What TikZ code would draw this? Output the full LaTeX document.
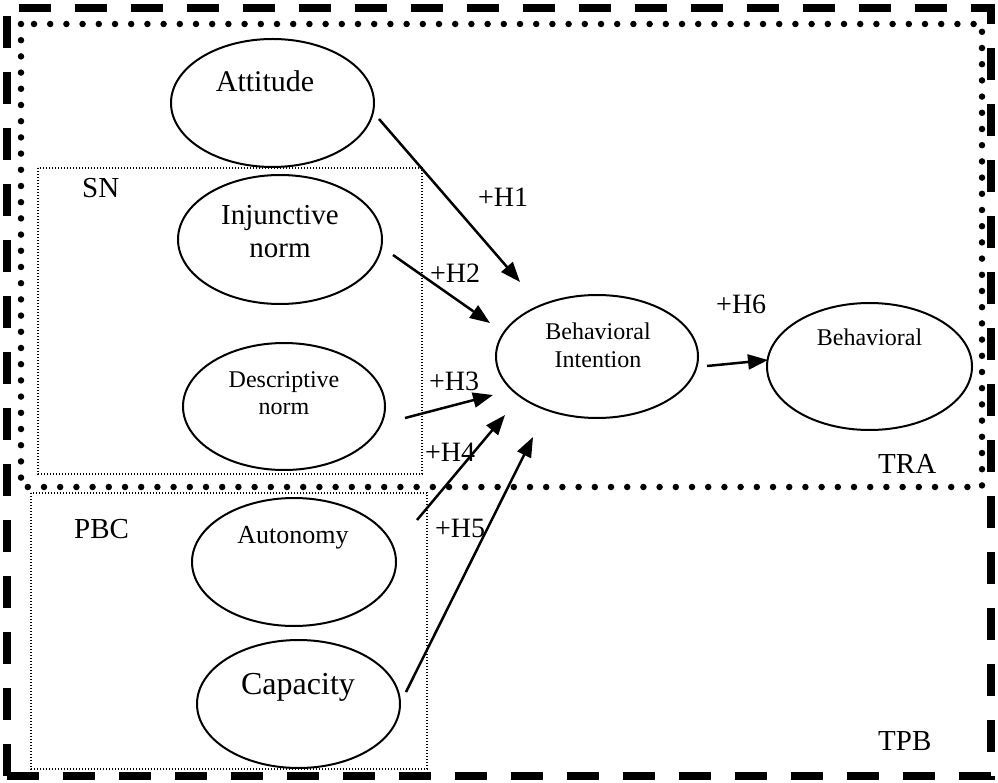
\documentclass[tikz,border=0pt]{standalone}
\usepackage{fontspec}
\setmainfont{Liberation Serif}
\usetikzlibrary{shapes.geometric,arrows.meta}
\begin{document}
\begin{tikzpicture}[x=1pt,y=-1pt,
  ell/.style={draw,ellipse,line width=2pt,inner sep=0pt},
  txt/.style={inner sep=0pt,anchor=base},
  lab/.style={inner sep=0pt,anchor=base west,font=\fontsize{29}{32}\selectfont},
  arr/.style={line width=2.5pt,-{Triangle[length=20pt,width=15pt]}},
  thinbox/.style={line width=1.4pt,dash pattern=on 1.4pt off 1.6pt},
  outerline/.style={line width=8pt,dash pattern=on 32pt off 24pt},
  dotbox/.style={line width=6.5pt,line cap=round,dash pattern=on 0pt off 16.2pt}
]
\useasboundingbox (0,0) rectangle (998,783);

% outer dashed frame (TPB), four sides
\coordinate (otl) at (3,8);   \coordinate (otr) at (995,8);
\coordinate (obl) at (3,776); \coordinate (obr) at (995,776);
\coordinate (oltop) at (7,4); \coordinate (olbot) at (7,780);
\coordinate (ortop) at (991,4); \coordinate (orbot) at (991,780);
\draw[outerline,dash phase=40pt] (otl) -- (otr);
\draw[outerline,dash phase=52pt] (obl) -- (obr);
\draw[outerline,dash phase=44pt] (oltop) -- (olbot);
\draw[outerline,dash phase=12pt] (ortop) -- (orbot);

% dotted frame (TRA) and thin group boxes
\draw[dotbox] (21,24) rectangle (982,487);
\draw[thinbox] (38,168) rectangle (422,474);
\draw[thinbox] (31,493) rectangle (427,769);

% ellipses
\node[ell,minimum width=203pt,minimum height=128pt] (att) at (272.5,103) {};
\node[ell,minimum width=204pt,minimum height=129pt] (inj) at (280,239.5) {};
\node[ell,minimum width=202pt,minimum height=127pt] (des) at (284,406.5) {};
\node[ell,minimum width=202pt,minimum height=123pt] (bi) at (597,356.5) {};
\node[ell,minimum width=205pt,minimum height=127pt] (beh) at (869.5,366.5) {};
\node[ell,minimum width=204pt,minimum height=128pt] (aut) at (294,562) {};
\node[ell,minimum width=203pt,minimum height=128pt] (cap) at (298.5,704) {};

% ellipse texts
\node[txt,font=\fontsize{30}{33}\selectfont] (tatt) at (265,92) {Attitude};
\node[txt,font=\fontsize{29}{32}\selectfont] (tinj1) at (280,225) {Injunctive};
\node[txt,font=\fontsize{29}{32}\selectfont] (tinj2) at (280,258) {norm};
\node[txt,font=\fontsize{24}{27}\selectfont] (tdes1) at (284,387) {Descriptive};
\node[txt,font=\fontsize{24}{27}\selectfont] (tdes2) at (284,414) {norm};
\node[txt,font=\fontsize{24}{27}\selectfont] (tbi1) at (598,339) {Behavioral};
\node[txt,font=\fontsize{24}{27}\selectfont] (tbi2) at (598,367) {Intention};
\node[txt,font=\fontsize{24}{27}\selectfont] (tbeh) at (869.5,345) {Behavioral};
\node[txt,font=\fontsize{26}{29}\selectfont] (taut) at (293,543) {Autonomy};
\node[txt,font=\fontsize{32}{35}\selectfont] (tcap) at (298,694) {Capacity};

% group labels
\node[lab] (sn) at (82,198) {SN};
\node[lab] (pbc) at (74,538) {PBC};
\node[lab] (tra) at (878,473) {TRA};
\node[lab] (tpb) at (878,750) {TPB};

% connector end points
\coordinate (a1s) at (379,119);  \coordinate (a1e) at (520,282);
\coordinate (a2s) at (393,255);  \coordinate (a2e) at (490,323);
\coordinate (a3s) at (405,418);  \coordinate (a3e) at (493,395);
\coordinate (a4s) at (417,520);  \coordinate (a4e) at (505,415);
\coordinate (a5s) at (406,692);  \coordinate (a5e) at (533,437);
\coordinate (a6s) at (707,366);  \coordinate (a6e) at (768,360);

\draw[arr] (a1s) -- (a1e);
\draw[arr] (a2s) -- (a2e);
\draw[arr] (a3s) -- (a3e);
\draw[arr] (a4s) -- (a4e);
\draw[arr] (a5s) -- (a5e);
\draw[arr] (a6s) -- (a6e);

% hypothesis labels
\node[lab,font=\fontsize{28}{31}\selectfont] (h1) at (478,207) {+H1};
\node[lab,font=\fontsize{28}{31}\selectfont] (h2) at (430,283) {+H2};
\node[lab,font=\fontsize{28}{31}\selectfont] (h3) at (429,390) {+H3};
\node[lab,font=\fontsize{28}{31}\selectfont] (h4) at (425,461) {+H4};
\node[lab,font=\fontsize{28}{31}\selectfont] (h5) at (435,537) {+H5};
\node[lab,font=\fontsize{28}{31}\selectfont] (h6) at (716,314) {+H6};
\end{tikzpicture}
\end{document}
